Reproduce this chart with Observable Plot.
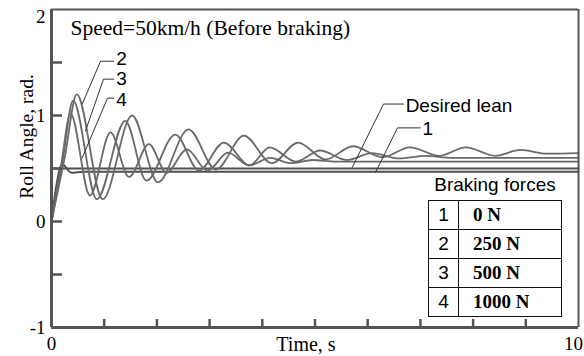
<!DOCTYPE html>
<html><head><meta charset="utf-8">
<script src="https://cdn.jsdelivr.net/npm/d3@7"></script>
<script src="https://cdn.jsdelivr.net/npm/@observablehq/plot@0.6"></script>
<style>
html,body{margin:0;padding:0;background:#fff;}
#wrap{position:relative;width:584px;height:356px;overflow:hidden;}
#legend-title{position:absolute;left:428px;top:174px;width:134px;text-align:center;font:19px "Liberation Sans",Arial,sans-serif;line-height:22px;color:#000;}
#legend{position:absolute;left:428px;top:200px;border-collapse:collapse;table-layout:fixed;width:134px;background:#fff;}
#legend td{border:1.5px solid #111;height:28px;padding:0;line-height:26px;color:#000;}
#legend td.n{width:29px;text-align:center;font:19px "Liberation Sans",Arial,sans-serif;}
#legend td.f{padding-left:14px;font:bold 19px "Liberation Serif","Times New Roman",serif;}
</style></head><body><div id="wrap"></div>
<script>
// ---- data ----
const curveIds = ["1", "2", "3", "4"];
const forceLabels = ["0 N", "250 N", "500 N", "1000 N"];

// curve 1 (0 N)
const t1 = [0, 0.08, 0.2, 0.38, 0.6, 10];
const v1 = [0, 0.3, 0.54, 0.46, 0.47, 0.47];
// curve 2 (250 N)
const t2 = [0, 0.25, 0.48, 0.97, 1.53, 2.02, 2.6, 3.12, 3.65, 4.18, 4.68, 5.2, 5.72, 6.28, 6.8, 7.36, 7.86, 8.42, 8.9, 9.4, 10];
const v2 = [0, 0.6, 1.20, 0.21, 1.00, 0.37, 0.87, 0.49, 0.81, 0.55, 0.745, 0.585, 0.71, 0.605, 0.70, 0.62, 0.70, 0.62, 0.675, 0.64, 0.645];
// curve 3 (500 N)
const t3 = [0, 0.21, 0.41, 0.86, 1.40, 1.80, 2.35, 2.80, 3.27, 3.76, 4.14, 4.64, 5.1, 5.6, 6.08, 6.6, 7.1, 7.6, 10];
const v3 = [0, 0.57, 1.14, 0.21, 0.95, 0.385, 0.82, 0.48, 0.745, 0.53, 0.70, 0.565, 0.67, 0.58, 0.645, 0.595, 0.62, 0.60, 0.60];
// curve 4 (1000 N)
const t4 = [0, 0.18, 0.36, 0.73, 1.12, 1.47, 1.85, 2.18, 2.57, 2.96, 3.35, 3.75, 4.15, 4.55, 4.95, 5.4, 10];
const v4 = [0, 0.52, 1.02, 0.245, 0.84, 0.42, 0.73, 0.46, 0.68, 0.48, 0.65, 0.53, 0.60, 0.55, 0.58, 0.565, 0.565];
// desired lean
const desiredT = [0, 10];
const desiredV = [0.5, 0.5];

// axes
const xTickVals = [1, 2, 3, 4, 5, 6, 7, 8, 9];
const yTickVals = [-0.5, 0, 0.5, 1, 1.5];
const yLabelVals = [-1, 0, 1];
const yTopLabel = [2];
const xLeftLabel = [0];
const xRightLabel = [10];

// texts
const titleText = "Speed=50km/h (Before braking)";
const xTitle = "Time, s";
const yTitle = "Roll Angle, rad.";
const legendTitle = "Braking forces";

// annotations (label text, anchor in data units, leader polyline in data units)
const annoText = ["2", "3", "4", "Desired lean", "1"];
const annoT = [1.23, 1.23, 1.23, 6.72, 7.04];
const annoV = [1.53, 1.343, 1.146, 1.094, 0.878];
const leaderT = [[1.18, 0.93, 0.583], [1.18, 0.987, 0.645], [1.18, 1.063, 0.583], [6.68, 6.30, 5.706], [7.0, 6.565, 6.148]];
const leaderV = [[1.512, 1.512, 1.108], [1.343, 1.343, 0.854], [1.164, 1.164, 0.601], [1.108, 1.108, 0.51], [0.883, 0.883, 0.463]];

// ---- build tables ----
const curveT = [t1, t2, t3, t4];
const curveV = [v1, v2, v3, v4];
const rows = curveT.flatMap((ts, i) => ts.map((t, j) => ({id: curveIds[i], t, v: curveV[i][j]})));
const oscRows = rows.filter(d => d.id !== "1");
const flatRows = rows.filter(d => d.id === "1");
const desired = desiredT.map((t, j) => ({t, v: desiredV[j]}));
const annos = annoText.map((s, i) => ({s, t: annoT[i], v: annoV[i]}));
const leaders = leaderT.flatMap((ts, i) => ts.map((t, j) => ({k: annoText[i], t, v: leaderV[i][j]})));

const serif = "'Liberation Serif','Times New Roman',serif";
const sans = "'Liberation Sans',Arial,sans-serif";
const axisColor = "#555";
const fmt = d => String(d);

const chart = Plot.plot({
  width: 584,
  height: 356,
  marginLeft: 51,
  marginRight: 6,
  marginTop: 9,
  marginBottom: 29,
  x: {domain: [0, 10]},
  y: {domain: [-1, 2]},
  style: {fontFamily: serif, fontSize: "19px", background: "#fff", color: "#000"},
  marks: [
    Plot.line(desired, {x: "t", y: "v", stroke: "#505050", strokeWidth: 2}),
    Plot.line(flatRows, {x: "t", y: "v", stroke: "#505050", strokeWidth: 2, curve: "monotone-x"}),
    Plot.line(oscRows, {x: "t", y: "v", z: "id", stroke: "#6a6a6a", strokeWidth: 1.8, curve: "monotone-x"}),
    Plot.line(leaders, {x: "t", y: "v", z: "k", stroke: "#333", strokeWidth: 1}),
    Plot.text(annos, {x: "t", y: "v", text: "s", textAnchor: "start", fontFamily: sans, fontSize: 19, fill: "#000"}),
    Plot.axisY({ticks: yTickVals, tickSize: -11, tickFormat: () => "", label: null, stroke: axisColor, strokeWidth: 2.5}),
    Plot.axisX({ticks: xTickVals, tickSize: -8, tickFormat: () => "", label: null, stroke: axisColor, strokeWidth: 2.5}),
    Plot.axisY({ticks: yLabelVals, tickSize: 0, tickPadding: 6, tickFormat: fmt, label: null, fontSize: 19, fontFamily: serif}),
    Plot.axisY({ticks: yTopLabel, tickSize: 0, tickPadding: 6, tickFormat: fmt, label: null, fontSize: 19, fontFamily: serif, dy: 7}),
    Plot.axisX({ticks: xLeftLabel, tickSize: 0, tickPadding: 9, tickFormat: fmt, label: null, fontSize: 19, fontFamily: serif}),
    Plot.axisX({ticks: xRightLabel, tickSize: 0, tickPadding: 9, tickFormat: fmt, label: null, fontSize: 19, fontFamily: serif, dx: -5}),
    Plot.ruleX([10], {stroke: axisColor, strokeWidth: 2}),
    Plot.ruleY([2], {stroke: axisColor, strokeWidth: 2}),
    Plot.ruleX([0], {stroke: axisColor, strokeWidth: 3}),
    Plot.ruleY([-1], {stroke: axisColor, strokeWidth: 3}),
    Plot.text([titleText], {frameAnchor: "top-left", textAnchor: "start", lineAnchor: "top", dx: 19, dy: 10, fontSize: 21.5, fontFamily: serif, fill: "#000"}),
    Plot.text([xTitle], {frameAnchor: "bottom", lineAnchor: "top", dx: -9, dy: 9, fontSize: 20, fontFamily: serif, fill: "#000"}),
    Plot.text([yTitle], {frameAnchor: "left", textAnchor: "middle", lineAnchor: "middle", rotate: -90, fontSize: 19.5, fontFamily: serif, fill: "#000"})
  ]
});

// place the rotated y-axis title left of the axis
d3.select(chart).selectAll("text")
  .filter(function() { return this.textContent === yTitle; })
  .attr("transform", "translate(26,136) rotate(-90)");

const wrap = document.getElementById("wrap");
wrap.appendChild(chart);

const lt = document.createElement("div");
lt.id = "legend-title";
lt.textContent = legendTitle;
wrap.appendChild(lt);

const table = document.createElement("table");
table.id = "legend";
curveIds.forEach((id, i) => {
  const tr = document.createElement("tr");
  const a = document.createElement("td"); a.className = "n"; a.textContent = id;
  const b = document.createElement("td"); b.className = "f"; b.textContent = forceLabels[i];
  tr.appendChild(a); tr.appendChild(b);
  table.appendChild(tr);
});
wrap.appendChild(table);
</script></body></html>
